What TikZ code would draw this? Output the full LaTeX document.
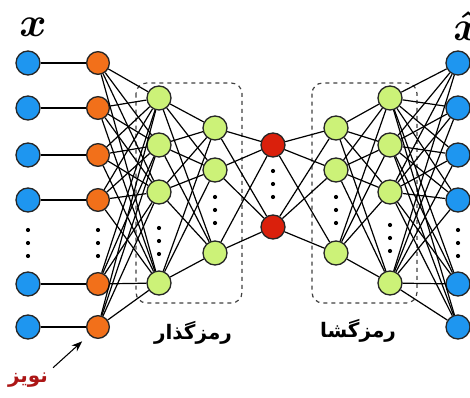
\documentclass[tikz,border=0pt]{standalone}
\usepackage{fontspec}
\usepackage{tikz}
\usetikzlibrary{positioning, arrows.meta}
\newfontfamily\farsifont[Script=Arabic]{DejaVu Sans}
\TeXXeTstate=1
\definecolor{inblue}{RGB}{30,150,240}
\definecolor{nzorange}{RGB}{242,112,26}
\definecolor{hidgreen}{RGB}{204,242,120}
\definecolor{codered}{RGB}{218,32,12}
\definecolor{noisered}{RGB}{172,22,22}
\newcommand{\colDots}[2]{\foreach \k in {-1,0,1} {\fill ({#1},{#2+13*\k}) circle (2.1);}}

\begin{document}
\begin{tikzpicture}[x=0.75pt, y=-0.75pt, line width=0.9pt,
            unit/.style={circle, draw=black!85, line width=1pt, minimum size=18pt, inner sep=0pt},
            inp/.style={unit, fill=inblue},
            noisy/.style={unit, fill=nzorange, minimum size=17pt},
            hid/.style={unit, fill=hidgreen},
            code/.style={unit, fill=codered},
            grp/.style={draw=black!75, dashed, rounded corners=8pt}]
            \useasboundingbox (0,0) rectangle (470,398);

            \draw[grp] (136,83) rectangle (242,303);
            \draw[grp] (312,83) rectangle (417,303);

            \foreach \i/\y in {1/63,2/108,3/155,4/200,5/284,6/327} {
                \node[inp] (in\i) at (28,\y) {};
                \node[noisy] (nz\i) at (98,\y) {};
                \node[inp] (out\i) at (458,\y) {};
            }
            \foreach \i/\y in {1/98,2/145,3/192,4/283} {
                \node[hid] (ea\i) at (159,\y) {};
                \node[hid] (db\i) at (390,\y) {};
            }
            \foreach \i/\y in {1/128,2/170,3/253} {
                \node[hid] (eb\i) at (215,\y) {};
                \node[hid] (da\i) at (336,\y) {};
            }
            \node[code] (z1) at (273,145) {};
            \node[code] (z2) at (273,227) {};

            \foreach \i in {1,...,6} \draw (in\i) -- (nz\i);
            \foreach \i in {1,...,6} \foreach \j in {1,...,4} \draw (nz\i) -- (ea\j);
            \foreach \i in {1,...,4} \foreach \j in {1,2,3} \draw (ea\i) -- (eb\j);
            \foreach \i in {1,2,3} \foreach \j in {1,2} \draw (eb\i) -- (z\j) (z\j) -- (da\i);
            \foreach \i in {1,2,3} \foreach \j in {1,...,4} \draw (da\i) -- (db\j);
            \foreach \i in {1,...,4} \foreach \j in {1,...,6} \draw (db\i) -- (out\j);

            \colDots{28}{243}
            \colDots{98}{243}
            \colDots{159}{241}
            \colDots{215}{210}
            \colDots{273}{184}
            \colDots{336}{210}
            \colDots{390}{238}
            \colDots{458}{243}

            \node (xin) at (33,27) {\scalebox{1.25}{\Huge\boldmath$x$}};
            \node (xout) at (467,26) {\scalebox{1.25}{\Huge\boldmath$\hat{x}$}};

            \node (enc) at (193,333) {\farsifont\bfseries\fontsize{15}{18}\selectfont\beginR رمزگذار\endR};
            \node (dec) at (358,331) {\farsifont\bfseries\fontsize{15}{18}\selectfont\beginR رمزگشا\endR};
            \node[text=noisered] (noise) at (28,380) {\farsifont\bfseries\fontsize{15}{18}\selectfont\beginR نویز\endR};

            \draw[-{Stealth[length=8pt]}, line width=0.8pt, shorten >=7pt] (noise.north east) -- (nz6);
        \end{tikzpicture}
\end{document}
